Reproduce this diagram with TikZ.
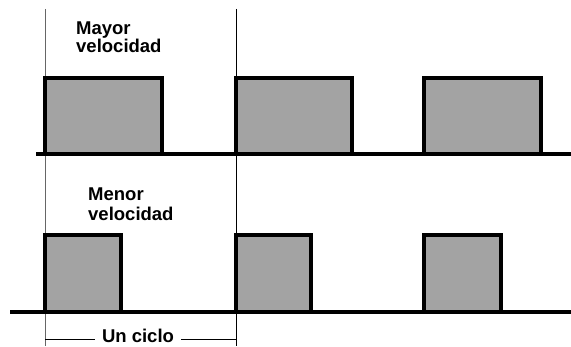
\documentclass[tikz,border=0pt]{standalone}
\usepackage{fontspec}
\setmainfont{Liberation Sans}
\tikzset{
  pulso/.style={line width=3.5pt, fill=black!36},
  base/.style={line width=3.5pt},
  marca/.style={gray!80!black, line width=0.8pt},
  etiqueta/.style={font=\bfseries\fontsize{18.5}{17}\selectfont, align=left, inner sep=0pt}
}
\begin{document}
\begin{tikzpicture}[x=1pt,y=-1pt]
    \useasboundingbox (0,0) rectangle (571,347);

    % Lineas verticales que marcan un ciclo
    \coordinate (m1a) at (45,9);
    \coordinate (m1b) at (45,346);
    \coordinate (m2a) at (236,9);
    \coordinate (m2b) at (236,346);
    \draw[marca] (m1a) -- (m1b);
    \draw[marca, black] (m2a) -- (m2b);

    % Mayor velocidad (pulsos anchos)
    \draw[base] (36,154) -- (571,154);
    \draw[pulso] (45,154) rectangle (162,78);
    \draw[pulso] (236,154) rectangle (352,78);
    \draw[pulso] (424,154) rectangle (541,78);
    \node[etiqueta, anchor=base west] (mayor) at (76,53) {Mayor\\velocidad};

    % Menor velocidad (pulsos angostos)
    \draw[base] (10,312) -- (571,312);
    \draw[pulso] (45,312) rectangle (121,235);
    \draw[pulso] (236,312) rectangle (311,235);
    \draw[pulso] (424,312) rectangle (501,235);
    \node[etiqueta, anchor=base west] (menor) at (88,221) {Menor\\[3.5pt]velocidad};

    % Un ciclo
    \node[etiqueta, anchor=base, inner xsep=7pt] (ciclo) at (138,343) {Un ciclo};
    \coordinate (c1) at (45,339);
    \coordinate (c2) at (236,339);
    \draw[line width=0.8pt] (c1) -- (c1 -| ciclo.west);
    \draw[line width=0.8pt] (ciclo.east |- c2) -- (c2);

\end{tikzpicture}
\end{document}
